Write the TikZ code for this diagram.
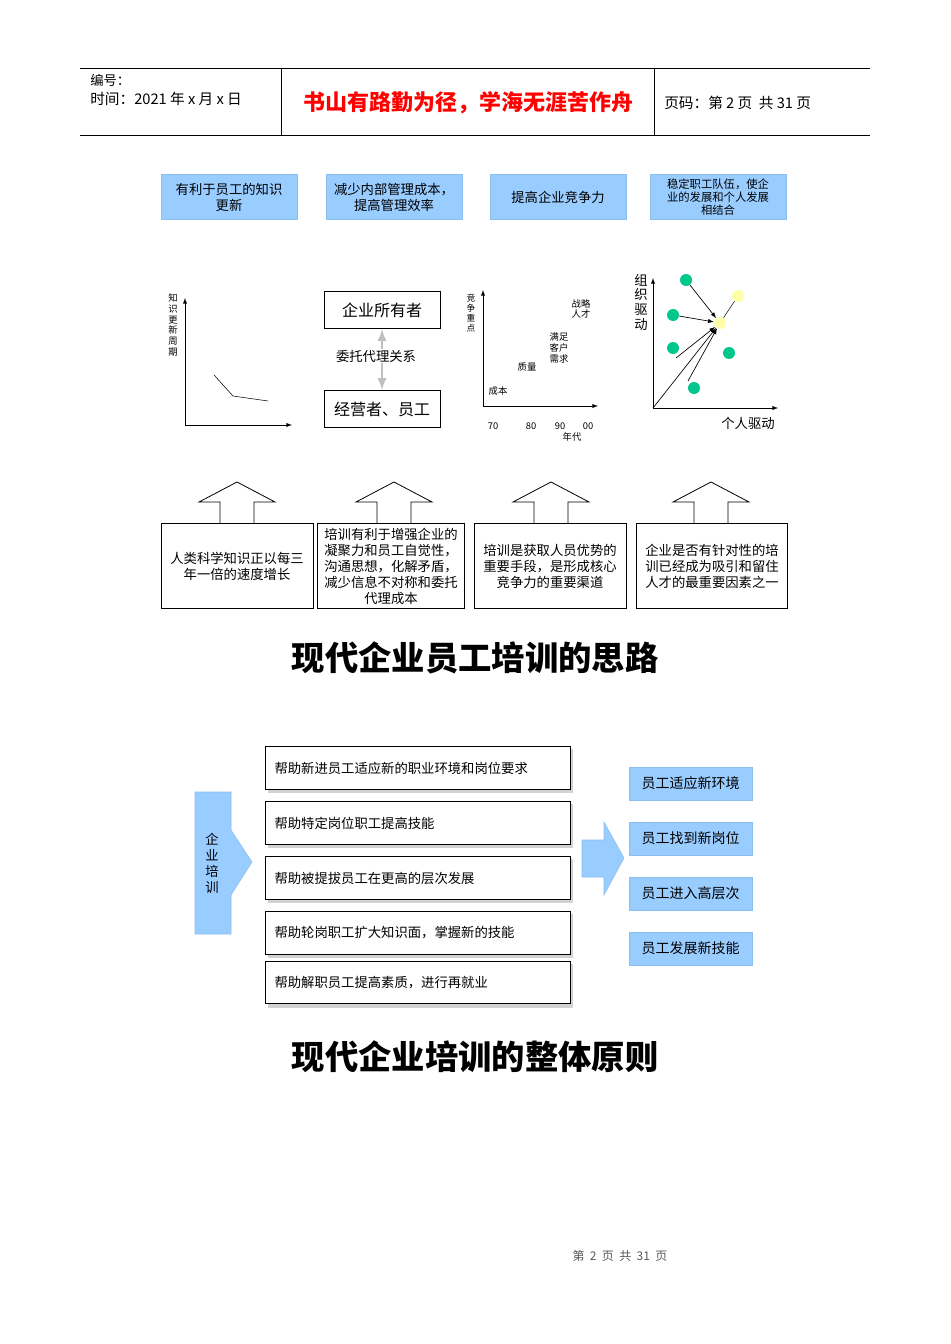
\documentclass[tikz,border=0pt]{standalone}
\usepackage{fontspec}
\setmainfont{Noto Sans CJK SC}
\begin{document}
\begin{tikzpicture}[x=0.75pt,y=-0.75pt,
 bl/.style={fill={rgb,255:red,153;green,204;blue,255},draw={rgb,255:red,140;green,190;blue,240}},
 tx/.style={font=\fontsize{10}{12}\selectfont,align=center,inner sep=0pt},
 wb/.style={draw,line width=0.6pt},
 ar/.style={-latex,line width=0.5pt},
 gdot/.style={circle,fill={rgb,255:red,0;green,200;blue,140},minimum size=9pt,inner sep=0pt},
 ydot/.style={circle,fill={rgb,255:red,255;green,255;blue,170},minimum size=9pt,inner sep=0pt}]
\useasboundingbox[fill=white] (0,0) rectangle (950,1344);
% header
\draw[line width=0.5pt] (80,68) -- (870,68) (80,135) -- (870,135) (281,68) -- (281,135) (654,68) -- (654,135);
\node[anchor=west,tx] (h1) at (90,80) {编号：};
\node[anchor=west,tx,font=\fontsize{11}{13}\selectfont] (h2) at (90,99) {时间：2021 年 x 月 x 日};
\node[tx,text=red,font=\fontsize{16.5}{19}\selectfont\bfseries] (h3) at (468,103) {书山有路勤为径，学海无涯苦作舟};
\node[anchor=west,tx,font=\fontsize{11}{13}\selectfont] (h4) at (664,103) {页码：第 2 页\ \ 共 31 页};
% blue boxes
\node[bl,minimum width=102pt,minimum height=34pt,tx] (b1) at (229,197) {有利于员工的知识\\更新};
\node[bl,minimum width=102pt,minimum height=34pt,tx] (b2) at (394,197) {减少内部管理成本，\\提高管理效率};
\node[bl,minimum width=102pt,minimum height=34pt,tx] (b3) at (558,197) {提高企业竞争力};
\node[bl,minimum width=102pt,minimum height=34pt,tx,font=\fontsize{8.5}{10}\selectfont] (b4) at (718,197) {稳定职工队伍，使企\\业的发展和个人发展\\相结合};
% chart 1
\coordinate (o1) at (185,425);
\draw[ar] (o1) -- (185,298);
\draw[ar] (o1) -- (292,425);
\draw (214,375) -- (233,396) -- (268,401);
\node[tx,font=\fontsize{7}{8}\selectfont,align=center] (l1) at (173,325) {知\\识\\更\\新\\周\\期};
% chart 2
\node[wb,minimum width=87pt,minimum height=28pt,tx,font=\fontsize{12}{14}\selectfont] (own) at (382,310) {企业所有者};
\node[wb,minimum width=87pt,minimum height=28pt,tx,font=\fontsize{12}{14}\selectfont] (emp) at (382,409) {经营者、员工};
\draw[<->,>=latex,line width=2pt,gray!50] (own.south) -- (emp.north);
\node[tx,fill=white,inner sep=1pt] (rel) at (376,356) {委托代理关系};
% chart 3
\coordinate (o3) at (483,406);
\draw[ar] (o3) -- (483,290);
\draw[ar] (o3) -- (598,406);
\node[tx,font=\fontsize{6.5}{7.5}\selectfont] (y3) at (471,313) {竞\\争\\重\\点};
\node[tx,font=\fontsize{7}{8}\selectfont] (c1) at (498,391) {成本};
\node[tx,font=\fontsize{7}{8}\selectfont] (c2) at (527,367) {质量};
\node[tx,font=\fontsize{7}{8}\selectfont,align=left] (c3) at (559,348) {满足\\客户\\需求};
\node[tx,font=\fontsize{7}{8}\selectfont,align=right] (c4) at (581,309) {战略\\人才};
\node[tx,font=\fontsize{7}{8}\selectfont] (x1) at (493,426) {70};
\node[tx,font=\fontsize{7}{8}\selectfont] (x2) at (531,426) {80};
\node[tx,font=\fontsize{7}{8}\selectfont] (x3) at (560,426) {90};
\node[tx,font=\fontsize{7}{8}\selectfont] (x4) at (588,426) {00};
\node[tx,font=\fontsize{7}{8}\selectfont] (x5) at (572,437) {年代};
% chart 4
\coordinate (o4) at (653,408);
\draw[ar] (o4) -- (653,278);
\draw[ar] (o4) -- (778,408);
\node[tx,font=\fontsize{10}{11}\selectfont] (y4) at (641,302) {组\\织\\驱\\动};
\node[tx] (x4l) at (748,423) {个人驱动};
\node[gdot] (g1) at (686,280) {};
\node[gdot] (g2) at (673,315) {};
\node[gdot] (g3) at (673,348) {};
\node[gdot] (g4) at (694,388) {};
\node[gdot] (g5) at (729,353) {};
\node[ydot] (y1) at (738,296) {};
\node[ydot] (y2) at (720,323) {};
\draw[ar] (g1) -- (y2);
\draw[ar] (g2) -- (y2);
\draw[ar] (676,358) -- (y2);
\draw[ar] (688,381) -- (y2);
\draw[ar] (o4) -- (y2);
\draw (y2) -- (y1);
% up arrows and boxes
\foreach \c in {237,394,551,711}{
 \draw[line width=0.6pt] (\c-17,523) -- (\c-17,502) -- (\c-38,502) -- (\c,482) -- (\c+38,502) -- (\c+17,502) -- (\c+17,523);
}
\node[wb,minimum width=114pt,minimum height=64pt,tx] (t1) at (237,566) {人类科学知识正以每三\\年一倍的速度增长};
\node[wb,minimum width=110pt,minimum height=64pt,tx] (t2) at (391,566) {培训有利于增强企业的\\凝聚力和员工自觉性，\\沟通思想，化解矛盾，\\减少信息不对称和委托\\代理成本};
\node[wb,minimum width=114pt,minimum height=64pt,tx] (t3) at (550,566) {培训是获取人员优势的\\重要手段，是形成核心\\竞争力的重要渠道};
\node[wb,minimum width=113pt,minimum height=64pt,tx] (t4) at (712,566) {企业是否有针对性的培\\训已经成为吸引和留住\\人才的最重要因素之一};
\node[tx,font=\fontsize{25}{30}\selectfont\bfseries] (title1) at (475,658) {现代企业员工培训的思路};
% part 2
\draw[bl] (195,792) -- (231,792) -- (231,830) -- (252,862) -- (231,895) -- (231,934) -- (195,934) -- cycle;
\node[tx,font=\fontsize{10}{12}\selectfont] (qy) at (212,863) {企\\业\\培\\训};
\foreach \y/\t/\n in {768/帮助新进员工适应新的职业环境和岗位要求/p1,823/帮助特定岗位职工提高技能/p2,878/帮助被提拔员工在更高的层次发展/p3,933/帮助轮岗职工扩大知识面，掌握新的技能/p4,982.5/帮助解职员工提高素质，进行再就业/p5}{
 \fill[gray!35] (268,\y-19) rectangle (573,\y+25);
 \node[wb,fill=white,minimum width=229pt,minimum height=32pt,anchor=west,tx,text width=222pt,align=left] (\n) at (265,\y) {\ \t};
}
\draw[bl] (582,840) -- (604,840) -- (604,822) -- (624,858) -- (604,895) -- (604,877) -- (582,877) -- cycle;
\foreach \y/\t/\n in {783.5/员工适应新环境/r1,838.5/员工找到新岗位/r2,893.5/员工进入高层次/r3,948.5/员工发展新技能/r4}{
 \node[bl,minimum width=92pt,minimum height=25pt,tx,font=\fontsize{10.5}{12}\selectfont] (\n) at (690.5,\y) {\t};
}
\node[tx,font=\fontsize{25}{30}\selectfont\bfseries] (title2) at (475,1057) {现代企业培训的整体原则};
\node[tx,font=\fontsize{9}{10}\selectfont,text=gray!70!black] (foot) at (620,1256) {第 \ 2 \ 页 \ 共 \ 31 \ 页};
\end{tikzpicture}
\end{document}
